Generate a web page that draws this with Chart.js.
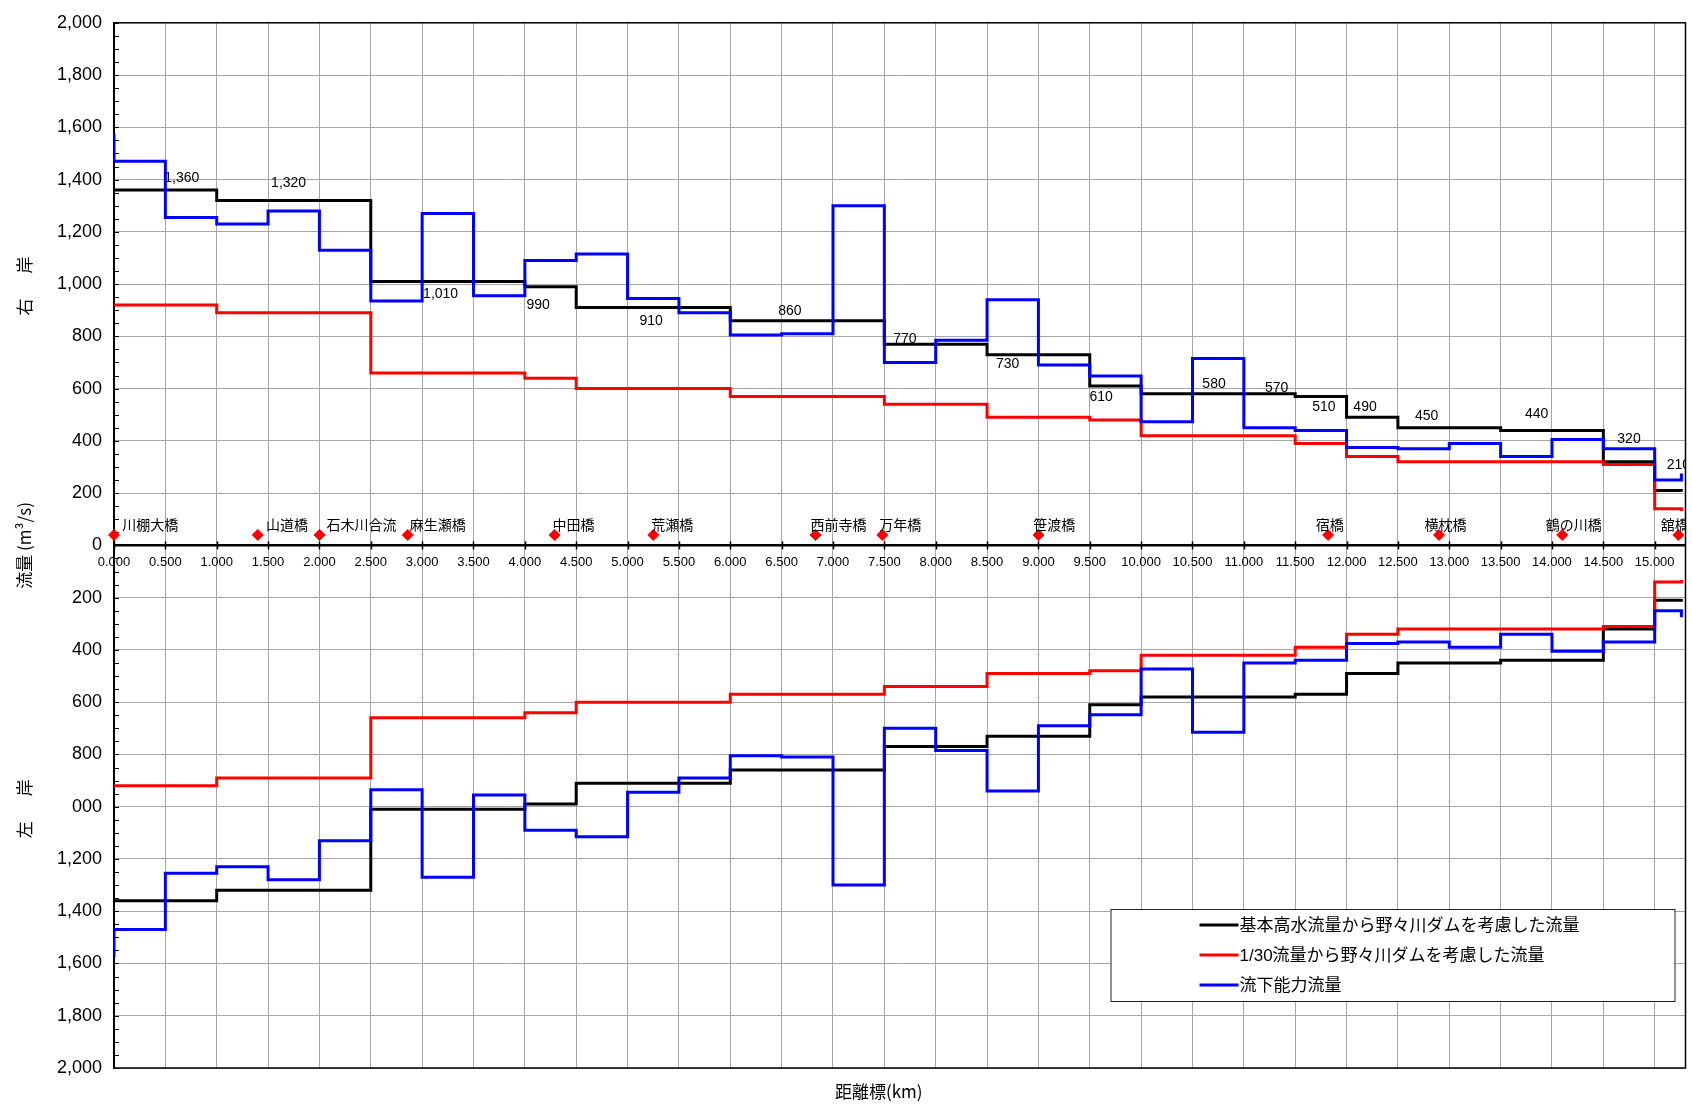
<!DOCTYPE html>
<html lang="ja">
<head>
<meta charset="utf-8">
<title>流量縦断図</title>
<script src="https://cdn.jsdelivr.net/npm/chart.js@4.4.1/dist/chart.umd.min.js"></script>
<style>
  html, body { margin: 0; padding: 0; background: #fff; }
</style>
</head>
<body>
<canvas id="chart" width="1692" height="1105"></canvas>
<script>
// 距離標(km): 各区間の始点。最後の値は終点
const kmPoints = [0.0, 0.5, 1.0, 1.5, 2.0, 2.5, 3.0, 3.5, 4.0, 4.5, 5.0, 5.5, 6.0, 6.5, 7.0, 7.5,
  8.0, 8.5, 9.0, 9.5, 10.0, 10.5, 11.0, 11.5, 12.0, 12.5, 13.0, 13.5, 14.0, 14.5, 15.0, 15.26];

// 基本高水流量から野々川ダムを考慮した流量 (m3/s)
const kihonFlow = [1360, 1360, 1320, 1320, 1320, 1010, 1010, 1010, 990, 910, 910, 910, 860, 860, 860, 770,
  770, 730, 730, 610, 580, 580, 580, 570, 490, 450, 450, 440, 440, 320, 210, 205];
// 1/30流量から野々川ダムを考慮した流量
const flow30 = [920, 920, 890, 890, 890, 660, 660, 660, 640, 600, 600, 600, 570, 570, 570, 540,
  540, 490, 490, 480, 420, 420, 420, 390, 340, 320, 320, 320, 320, 310, 140, 132];
// 流下能力流量
const capacityStart = 1575;
const capacity = [1470, 1255, 1230, 1280, 1130, 935, 1270, 955, 1090, 1115, 945, 890, 805, 810, 1300, 700,
  785, 940, 690, 648, 473, 715, 450, 440, 375, 370, 390, 340, 405, 370, 250, 275];

const seriesNames = ['基本高水流量から野々川ダムを考慮した流量', '1/30流量から野々川ダムを考慮した流量', '流下能力流量'];

// 基本高水流量のラベル
const kihonLabels = ['1,360', '1,320', '1,010', '990', '910', '860', '770', '730', '610', '580', '570', '510', '490', '450', '440', '320', '210'];
const kihonLabelKm = [0.66, 1.70, 3.18, 4.13, 5.23, 6.58, 7.70, 8.70, 9.61, 10.71, 11.32, 11.78, 12.18, 12.78, 13.85, 14.75, 15.23];
const kihonLabelFlow = [1405, 1386, 962, 921, 860, 896, 790, 692, 567, 619, 603, 530, 530, 496, 502, 407, 306];

// 橋梁など
const bridges = ['川棚大橋', '山道橋', '石木川合流', '麻生瀬橋', '中田橋', '荒瀬橋', '西前寺橋', '万年橋', '笹渡橋', '宿橋', '横枕橋', '鶴の川橋', '舘橋'];
const bridgeKm = [0.0, 1.40, 2.00, 2.86, 4.29, 5.25, 6.83, 7.48, 9.00, 11.82, 12.90, 14.10, 15.23];
const bridgeLabelKm = [0.08, 1.48, 2.07, 2.88, 4.27, 5.23, 6.78, 7.45, 8.95, 11.70, 12.76, 13.94, 15.06];
const bridgeMarkFlow = 40;
const bridgeLabelFlow = 80;

const LATIN = "'Liberation Sans', 'Noto Sans CJK JP', sans-serif";
const CJK = "'Noto Sans CJK JP', 'Liberation Sans', sans-serif";
Chart.defaults.font.family = LATIN;
Chart.defaults.color = '#000';

const colors = ['#000000', '#ff0000', '#0000ff'];

function points(vals, sign, start) {
  const pts = kmPoints.map((k, i) => ({ x: k, y: sign * vals[i] }));
  if (start !== undefined) pts.unshift({ x: kmPoints[0], y: sign * start });
  return pts;
}

function stepLine(label, data, color, order) {
  return {
    type: 'line', label, data, order,
    borderColor: color, borderWidth: 3, stepped: true,
    pointRadius: 0, fill: false, borderJoinStyle: 'miter'
  };
}

const datasets = [];
[1, -1].forEach(sign => {
  datasets.push(stepLine(seriesNames[0], points(kihonFlow, sign), colors[0], 3));
  datasets.push(stepLine(seriesNames[1], points(flow30, sign), colors[1], 2));
  datasets.push(stepLine(seriesNames[2], points(capacity, sign, capacityStart), colors[2], 1));
});
datasets.push({
  type: 'scatter', label: '橋梁',
  data: bridgeKm.map(k => ({ x: k, y: bridgeMarkFlow })),
  pointStyle: 'rectRot', pointRadius: 5.5,
  backgroundColor: '#ff0000', borderColor: '#ff0000', order: 0, clip: false
});

const decor = {
  id: 'decor',
  beforeDatasetsDraw(chart) {
    const { ctx, chartArea: a, scales: { x, y } } = chart;
    const y0 = y.getPixelForValue(0);
    ctx.save();
    // plot frame
    ctx.strokeStyle = '#000';
    ctx.lineWidth = 1.5;
    ctx.strokeRect(a.left, a.top, a.right - a.left, a.bottom - a.top);
    // y axis minor ticks
    ctx.lineWidth = 1;
    for (let v = -2000; v <= 2000; v += 50) {
      const py = Math.round(y.getPixelForValue(v)) + 0.5;
      ctx.beginPath();
      ctx.moveTo(a.left, py);
      ctx.lineTo(a.left + 5, py);
      ctx.stroke();
    }
    // x axis tick marks at zero line
    ctx.lineWidth = 1.5;
    for (let k = 0; k <= 15; k += 0.5) {
      const px = Math.round(x.getPixelForValue(k)) + 0.5;
      ctx.beginPath();
      ctx.moveTo(px, y0 - 4);
      ctx.lineTo(px, y0 + 4);
      ctx.stroke();
    }
    ctx.restore();
  },
  afterDatasetsDraw(chart) {
    const { ctx, chartArea: a, scales: { x, y } } = chart;
    ctx.save();
    // labels clipped to plot area
    ctx.beginPath();
    ctx.rect(a.left - 10, a.top, a.right - a.left + 10, a.bottom - a.top);
    ctx.clip();
    ctx.fillStyle = '#000';
    ctx.font = '14px ' + LATIN;
    ctx.textAlign = 'center';
    ctx.textBaseline = 'middle';
    kihonLabels.forEach((t, i) => {
      ctx.fillText(t, x.getPixelForValue(kihonLabelKm[i]), y.getPixelForValue(kihonLabelFlow[i]));
    });
    ctx.font = '14px ' + CJK;
    ctx.textAlign = 'left';
    bridges.forEach((t, i) => {
      ctx.fillText(t, x.getPixelForValue(bridgeLabelKm[i]), y.getPixelForValue(bridgeLabelFlow));
    });
    ctx.restore();
  },
  afterDraw(chart) {
    const { ctx, chartArea: a, scales: { y } } = chart;
    ctx.save();
    // side titles
    ctx.fillStyle = '#000';
    ctx.textAlign = 'center';
    ctx.textBaseline = 'middle';
    const side = [['右　岸', 1000], ['流量 (m³/s)', 0], ['左　岸', -1000]];
    side.forEach(([t, v], i) => {
      ctx.save();
      ctx.translate(25, y.getPixelForValue(v));
      ctx.rotate(-Math.PI / 2);
      ctx.font = '17px ' + CJK;
      if (i !== 1) ctx.letterSpacing = '4px';
      ctx.fillText(t, 0, 0);
      ctx.restore();
    });

    // bottom title
    ctx.font = '17px ' + CJK;
    ctx.fillText('距離標(km)', (a.left + a.right) / 2 - 21, 1092);

    // legend
    const w = 564, h = 92;
    const lx = a.right - 11 - w, ly = a.bottom - 67 - h;
    ctx.fillStyle = '#fff';
    ctx.fillRect(lx, ly, w, h);
    ctx.strokeStyle = '#222';
    ctx.lineWidth = 1;
    ctx.strokeRect(lx + 0.5, ly + 0.5, w, h);
    ctx.font = '17px ' + LATIN;
    ctx.textAlign = 'left';
    seriesNames.forEach((name, i) => {
      const ry = ly + 16 + i * 30;
      ctx.strokeStyle = colors[i];
      ctx.lineWidth = 3;
      ctx.beginPath();
      ctx.moveTo(lx + 89, ry);
      ctx.lineTo(lx + 128, ry);
      ctx.stroke();
      ctx.fillStyle = '#000';
      ctx.fillText(name, lx + 129, ry + 1);
    });
    ctx.restore();
  }
};

new Chart(document.getElementById('chart'), {
  data: { datasets },
  options: {
    responsive: false,
    animation: false,
    devicePixelRatio: 1,
    layout: { padding: { left: 0, right: 3, top: 19, bottom: 37 } },
    plugins: { legend: { display: false }, tooltip: { enabled: false } },
    scales: {
      x: {
        type: 'linear', min: 0, max: 15.3,
        position: { y: 0 },
        afterFit: s => { s.height = 0; },
        ticks: {
          stepSize: 0.5, includeBounds: false, autoSkip: false, maxRotation: 0,
          padding: 9, font: { size: 13 }, color: '#000',
          callback: v => Number(v).toFixed(3)
        },
        grid: { color: '#a6a6a6', lineWidth: 1, drawTicks: false },
        border: { color: '#000', width: 2.5 }
      },
      y: {
        type: 'linear', min: -2000, max: 2000, position: 'left',
        afterFit: s => { s.width = 114; },
        ticks: {
          stepSize: 200, autoSkip: false, padding: 12,
          font: { size: 18 }, color: '#000',
          callback: v => (v === -1000 ? '000' : Math.abs(v).toLocaleString('en-US'))
        },
        grid: { color: '#a6a6a6', lineWidth: 1, drawTicks: false },
        border: { color: '#000', width: 2 }
      }
    }
  },
  plugins: [decor]
});
</script>
</body>
</html>
